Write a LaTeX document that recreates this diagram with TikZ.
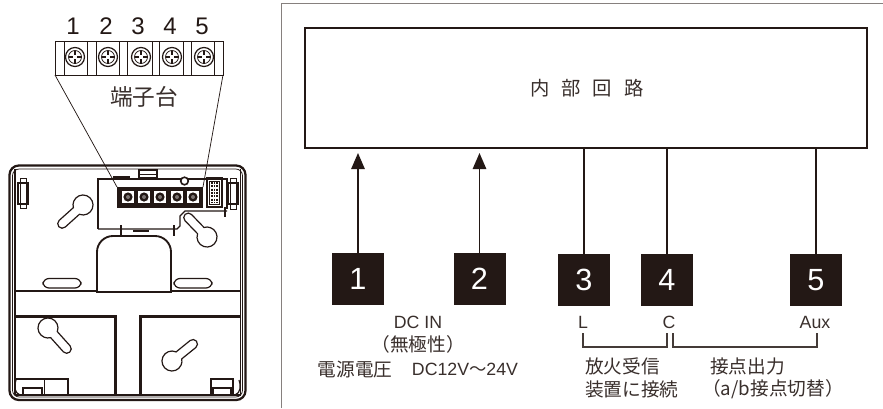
\documentclass[tikz,border=0pt]{standalone}
\usepackage{fontspec}
\setmainfont{Liberation Sans}
\newfontfamily\cjk{Noto Sans CJK JP}
\usetikzlibrary{arrows.meta}
\definecolor{ink}{HTML}{231815}
\newcommand{\fs}[1]{\fontsize{#1}{#1}\selectfont}
\newcommand{\keyhole}[4]{% cx cy angle len
  \draw[med1,shift={(#1,#2)},rotate=#3] (8.9,-4.5) arc (-26.7:-333.3:10) -- (#4,4.5) arc (90:-90:4.5) -- cycle;}
\tikzset{
 termbox/.style={fill=ink,draw=none,minimum width=39pt,minimum height=39pt,inner sep=0pt,text=white,font=\fs{23}},
 wire/.style={draw=ink,line width=1.3pt},
 feed/.style={wire,-{Triangle[length=12pt,width=10pt]}},
 brace/.style={draw=ink!85,line width=0.9pt},
 lbl/.style={inner sep=0pt,text=ink!90,font=\fs{14}\cjk},
 latin/.style={inner sep=0pt,text=ink!90,font=\fs{13.3}},
 num/.style={inner sep=0pt,text=ink,font=\fs{18}},
 thick1/.style={draw=ink,line width=1.4pt},
 thin1/.style={draw=ink,line width=.55pt},
 med1/.style={draw=ink,line width=.9pt}
}
\begin{document}
\begin{tikzpicture}[x=0.75pt,y=-0.75pt]
\useasboundingbox (0,0) rectangle (883,408);
\fill[white] (0,0) rectangle (883,408);
% frame
\draw[draw=ink!55,line width=1pt] (281.5,408) -- (281.5,3.5) -- (883,3.5);
% inner block
\node[draw=ink,line width=1.9pt,minimum width=421.5pt,minimum height=90pt,inner sep=0pt] (core) at (586,88) {};
\node[lbl,font=\fs{14.5}\cjk] (corelabel) at (587,88) {内\hspace{9pt}部\hspace{9pt}回\hspace{9pt}路};
% terminals
\node[termbox] (t1) at (358,279) {1};
\node[termbox] (t2) at (479.5,279) {2};
\node[termbox] (t3) at (584,280) {3};
\node[termbox] (t4) at (667,280) {4};
\node[termbox] (t5) at (816,280) {5};
\coordinate (a1) at (358,153);
\coordinate (a2) at (479.5,153);
\draw[feed] (t1.north) -- (a1);
\draw[feed] (t2.north) -- (a2);
\draw[wire] (t3.north) -- (t3.north |- core.south);
\draw[wire] (t4.north) -- (t4.north |- core.south);
\draw[wire] (t5.north) -- (t5.north |- core.south);
% labels
\node[latin] (dcin) at (418,322) {DC IN};
\node[lbl] (nopol) at (418,344) {（無極性）};
\node[lbl] (vlab) at (355,369) {電源電圧};
\node[latin] (vval) at (465,369) {DC12V{\cjk\fs{13}～}24V};
\node[latin] (lL) at (583,322) {L};
\node[latin] (lC) at (669,322) {C};
\node[latin] (lA) at (815,322) {Aux};
\coordinate (bl) at (583,333); \coordinate (bc1) at (667,333);
\coordinate (bc2) at (673,333); \coordinate (br) at (817,333);
\draw[brace] (bl) -- (583,347) -- (667,347) -- (bc1);
\draw[brace] (bc2) -- (673,347) -- (817,347) -- (br);
\node[lbl,anchor=west] (f1) at (585,366) {放火受信};
\node[lbl,anchor=west] (f2) at (585,389) {装置に接続};
\node[lbl,anchor=west] (c1) at (710,366) {接点出力};
\node[lbl] (c2) at (773,389) {（a/b接点切替）};
% terminal block enlarged
\draw[thin1] (55,41) rectangle (223,75);
\foreach \x in {64,87,96,119,127,152,159,183,191,214}{\draw[thin1] (\x,41) -- (\x,75);}
\foreach \x in {75,108,141,172,204}{
  \draw[med1] (\x,57) circle (9.5);
  \draw[thin1] (\x,57) circle (6.5);
  \draw[med1] (\x-6.5,57) -- (\x-2,57) (\x+2,57) -- (\x+6.5,57) (\x,50.5) -- (\x,55) (\x,59) -- (\x,63.5);
}
\node[num] (n1) at (73,26) {1};
\node[num] (n2) at (106,26) {2};
\node[num] (n3) at (138,26) {3};
\node[num] (n4) at (170,26) {4};
\node[num] (n5) at (202,26) {5};
\node[lbl,font=\fs{17}\cjk] (tb) at (144,97) {端子台};
% device outline
\draw[draw=ink,line width=1.7pt,rounded corners=7pt] (9.5,165.5) rectangle (245.5,400);
\draw[thin1,rounded corners=5pt] (12.5,169) rectangle (242.5,397);
\draw[med1] (15,169) -- (15,395);
\draw[med1] (240.5,169) -- (240.5,395);
\draw[draw=ink,line width=1.2pt] (15,395) -- (240.5,395);
% clips
\draw[thin1] (20,178) rectangle (26,208);
\draw[med1] (18,183) rectangle (28,204);
\draw[thin1] (230,178) rectangle (236,209);
\draw[med1] (228,183) rectangle (238,204);
% board
\draw[med1] (98,229) -- (98,179) -- (227,179) -- (227,209);
\draw[med1] (98,229) -- (177,229) -- (180,226) -- (180,216) -- (185,211) -- (227,211);
\fill[ink] (113,176) rectangle (130,179);
\draw[med1,fill=white] (139,170) rectangle (157,179);
\draw[thin1] (139,174) -- (157,174);
\fill[ink] (139,177) rectangle (157,180);
\draw[draw=ink,line width=1.2pt,fill=white] (184.5,181) circle (3.8);
% terminal block on device
\fill[ink] (117,187) rectangle (203,208);
\foreach \x in {122,138,154,171,187}{
  \fill[white] (\x,191) rectangle +(12,12);
  \fill[ink] (\x+6,197) circle (4.6);
  \fill[white!40!ink] (\x+6,197) circle (2);
}
% dip
\draw[med1] (207,178) rectangle (222,207);
\draw[thin1] (209.5,181) rectangle (219.5,204);
\foreach \x in {212,214.5,217}{\draw[draw=ink,line width=1.1pt,dash pattern=on 1.5pt off 1pt] (\x,182) -- (\x,203);}
\draw[draw=ink,line width=1.7pt] (225,207) -- (225,217);
\draw[draw=ink,line width=1.3pt] (121,225) -- (121,236);
\draw[draw=ink,line width=1.3pt] (174,225) -- (174,236);
\fill[ink] (133,229.5) rectangle (149,232);
% centre tab
\draw[draw=ink,line width=1.4pt,rounded corners=12pt] (97,291) -- (97,236) -- (171,236) -- (171,291);
% key holes
\keyhole{83}{205}{222}{28}
\keyhole{207}{237}{134}{27}
\keyhole{48}{328}{-48}{28}
\keyhole{172}{361}{39}{27}
% slots
\draw[med1,rounded corners=4.5pt] (43,278.5) rectangle (81,288);
\draw[med1,rounded corners=4.5pt] (174,278.5) rectangle (212,288);
% horizontal ribs
\draw[draw=ink,line width=1.6pt] (15,291) -- (96,291) (172,291) -- (240,291);
\draw[draw=ink,line width=1.2pt] (96,292) -- (172,292);
\draw[draw=ink,line width=1.7pt] (15,316.5) -- (115.5,316.5) -- (115.5,395);
\draw[draw=ink,line width=1.7pt] (240,316.5) -- (140.5,316.5) -- (140.5,395);
% bottom clips
\draw[med1] (15,379) -- (68,379) -- (68,395);
\draw[thin1] (44,379) -- (44,395);
\draw[med1] (23,388) rectangle (42,395);
\draw[med1] (211,395) -- (211,379) -- (233,379) -- (233,395);
\draw[med1] (213,388) rectangle (231,395);
\draw[med1] (20,395) .. controls (14,393) and (14,385) .. (16,380);
\draw[med1] (235,395) .. controls (241,393) and (241,385) .. (239,380);
% zoom lines
\coordinate (zl) at (55,75); \coordinate (zr) at (223,75);
\coordinate (dl) at (117,187); \coordinate (dr) at (203,187);
\draw[thin1] (zl) -- (dl);
\draw[thin1] (zr) -- (dr);
\end{tikzpicture}
\end{document}
